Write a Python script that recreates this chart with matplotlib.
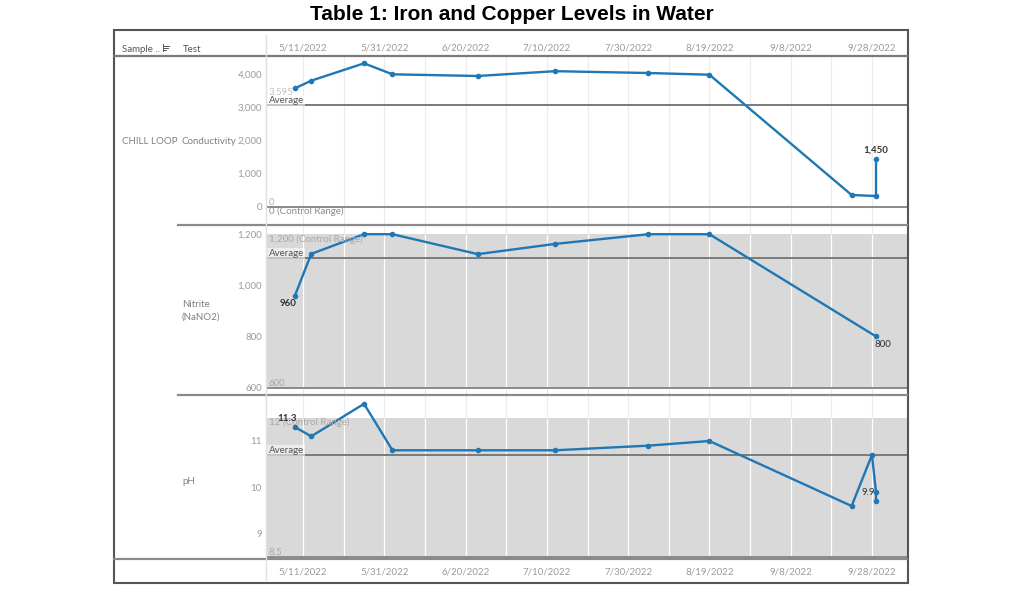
import numpy as np
import pandas as pd
import matplotlib
matplotlib.use('Agg')
import matplotlib.pyplot as plt
import matplotlib.dates as mdates
from matplotlib.lines import Line2D
from matplotlib.patches import Rectangle

W, H = 1024, 597

title = "Table 1: Iron and Copper Levels in Water"
sample = "CHILL LOOP"

cond_dates = ['2022-05-09', '2022-05-13', '2022-05-26', '2022-06-02', '2022-06-23', '2022-07-12',
              '2022-08-04', '2022-08-19', '2022-09-23', '2022-09-29', '2022-09-29']
cond_values = [3577, 3807, 4332, 4000, 3949, 4094, 4039, 3988, 353, 323, 1450]

nitrite_dates = ['2022-05-09', '2022-05-13', '2022-05-26', '2022-06-02', '2022-06-23', '2022-07-12',
                 '2022-08-04', '2022-08-19', '2022-09-29']
nitrite_values = [960, 1123, 1200, 1200, 1122, 1162, 1200, 1200, 800]

ph_dates = ['2022-05-09', '2022-05-13', '2022-05-26', '2022-06-02', '2022-06-23', '2022-07-12',
            '2022-08-04', '2022-08-19', '2022-09-23', '2022-09-28', '2022-09-29', '2022-09-29']
ph_values = [11.3, 11.1, 11.8, 10.8, 10.8, 10.8, 10.9, 11.0, 9.6, 10.7, 9.9, 9.7]

plt.rcParams['font.family'] = ['Lato', 'DejaVu Sans']

BLUE = '#1f77b4'
TICK = '#9a9a9a'
BAND = '#d9d9d9'
FS = 7

fig = plt.figure(figsize=(W / 100, H / 100), dpi=100)


def fx(px):
    return px / W


def fy(py):
    return 1 - py / H


x0 = mdates.date2num(pd.Timestamp('2022-05-01 21:00'))
x1 = mdates.date2num(pd.Timestamp('2022-10-06 15:00'))
tick_dates = pd.date_range('2022-05-11', '2022-09-28', freq='20D')
grid_dates = pd.date_range('2022-05-11', '2022-10-06', freq='10D')


def fmt_date(v, pos=None):
    d = mdates.num2date(v)
    return f"{d.month}/{d.day}/{d.year}"


def pane(top, bottom, dates, values, ylim, yticks, yfmt, band, labels, notes):
    ax = fig.add_axes([fx(266), fy(bottom), fx(907 - 266), (bottom - top) / H])
    xs = mdates.date2num(pd.to_datetime(dates))
    ax.set_xlim(x0, x1)
    ax.set_ylim(*ylim)
    for s in ax.spines.values():
        s.set_visible(False)
    # grid
    for g in grid_dates:
        ax.axvline(mdates.date2num(g), color='#ececec', lw=0.9, zorder=0)
    lo, hi, filled = band
    if filled:
        ax.axhspan(lo, hi, color=BAND, lw=0, zorder=1)
        ax.vlines(mdates.date2num(grid_dates), lo, hi, color='white', lw=0.9, zorder=1.5)
    ax.axhline(lo, color='#8a8a8a', lw=1.4, zorder=2)
    avg = np.mean(values)
    ax.axhline(avg, color='#7a7a7a', lw=1.4, zorder=2)
    ax.plot(xs, values, color=BLUE, lw=1.7, marker='o', ms=3, zorder=4)
    ax.set_xticks(mdates.date2num(tick_dates))
    ax.xaxis.set_major_formatter(plt.FuncFormatter(fmt_date))
    ax.tick_params(axis='x', length=0, labelbottom=False, labelsize=FS, labelcolor=TICK)
    ax.set_yticks(yticks)
    ax.yaxis.set_major_formatter(plt.FuncFormatter(yfmt))
    ax.tick_params(axis='y', length=0, pad=3, labelsize=FS, labelcolor=TICK)
    ax.grid(False)
    tx = 0.004
    bb = dict(facecolor='white', alpha=0.55, edgecolor='none', pad=0.8)
    for y, txt, va, col in labels:
        if txt == 'Average':
            y = avg
        ax.text(tx, y, txt, transform=ax.get_yaxis_transform(), fontsize=FS, color=col,
                va=va, ha='left', zorder=5, bbox=bb if txt == 'Average' else None)
    for i, txt, dx, dy, ha, weight in notes:
        ax.annotate(txt, (xs[i], values[i]), xytext=(dx, dy), textcoords='offset points',
                    ha=ha, va='center', fontsize=FS, color='#333333', fontweight=weight, zorder=6)
    return ax


comma = lambda v, p=None: f"{int(v):,}"
plain = lambda v, p=None: f"{v:g}"

ax_c = pane(56, 225, cond_dates, cond_values, (-553, 4553), [0, 1000, 2000, 3000, 4000], comma,
            (0, 3595, False),
            [(3595, '3,595', 'top', '#c4c4c4'), (None, 'Average', 'bottom', '#555555'),
             (0, '0', 'bottom', '#b0b0b0'), (0, '0 (Control Range)', 'top', '#8a8a8a')],
            [(10, '1,450', 0, 6, 'center', 'bold')])
ax_n = pane(225, 395, nitrite_dates, nitrite_values, (571, 1236), [600, 800, 1000, 1200], comma,
            (600, 1200, True),
            [(1200, '1,200 (Control Range)', 'top', '#a8a8a8'), (None, 'Average', 'bottom', '#555555'),
             (600, '600', 'bottom', '#a8a8a8')],
            [(0, '960', -5, -6, 'center', 'bold'), (8, '800', 5, -6, 'center', 'normal')])
ax_p = pane(395, 559, ph_dates, ph_values, (8.46, 11.99), [9, 10, 11], plain,
            (8.5, 11.5, True),
            [(11.5, '12 (Control Range)', 'top', '#a8a8a8'), (None, 'Average', 'bottom', '#555555'),
             (8.5, '8.5', 'bottom', '#a8a8a8')],
            [(0, '11.3', -6, 6, 'center', 'bold'), (10, '9.9', -1, 0, 'right', 'normal')])

ax_c.tick_params(axis='x', labeltop=True, pad=2.5)
ax_p.tick_params(axis='x', labelbottom=True, pad=6)

# table frame and separators
lines = [
    ((114, 907), (56, 56), '#7a7a7a', 1.6),
    ((178, 907), (225, 225), '#8a8a8a', 1.6),
    ((178, 907), (395, 395), '#8a8a8a', 1.6),
    ((114, 907), (559, 559), '#8a8a8a', 1.6),
    ((266, 266), (35, 580), '#e0e0e0', 1.0),
]
for xx, yy, c, lw in lines:
    fig.add_artist(Line2D([fx(v) for v in xx], [fy(v) for v in yy], color=c, lw=lw))
fig.add_artist(Rectangle((fx(114), fy(583)), fx(908 - 114), (583 - 30) / H, fill=False,
                         edgecolor='#555555', lw=1.5))

# sort icon next to "Sample .."
for k, ln in enumerate([6, 4.5, 3]):
    fig.add_artist(Line2D([fx(163), fx(163 + ln)], [fy(46 + 2 * k), fy(46 + 2 * k)], color='#555555', lw=0.7))
fig.add_artist(Line2D([fx(163), fx(163)], [fy(44), fy(51)], color='#555555', lw=0.7))

fig.text(fx(122), fy(49), 'Sample ..', fontsize=FS, color='#555555', va='center', ha='left')
fig.text(fx(183), fy(50), 'Test', fontsize=FS, color='#555555', va='center', ha='left')
fig.text(fx(122), fy(141), sample, fontsize=FS, color='#808080', va='center', ha='left')
fig.text(fx(182), fy(141), 'Conductivity', fontsize=FS, color='#808080', va='center', ha='left')
fig.text(fx(182), fy(311), 'Nitrite\n(NaNO2)', fontsize=FS, color='#808080', va='center', ha='left',
         linespacing=1.5)
fig.text(fx(182), fy(481), 'pH', fontsize=FS, color='#808080', va='center', ha='left')

fig.text(0.5, fy(14), title, fontsize=15, fontweight='bold', family='Liberation Sans',
         ha='center', va='center')

fig.savefig('out.png', dpi=100)
